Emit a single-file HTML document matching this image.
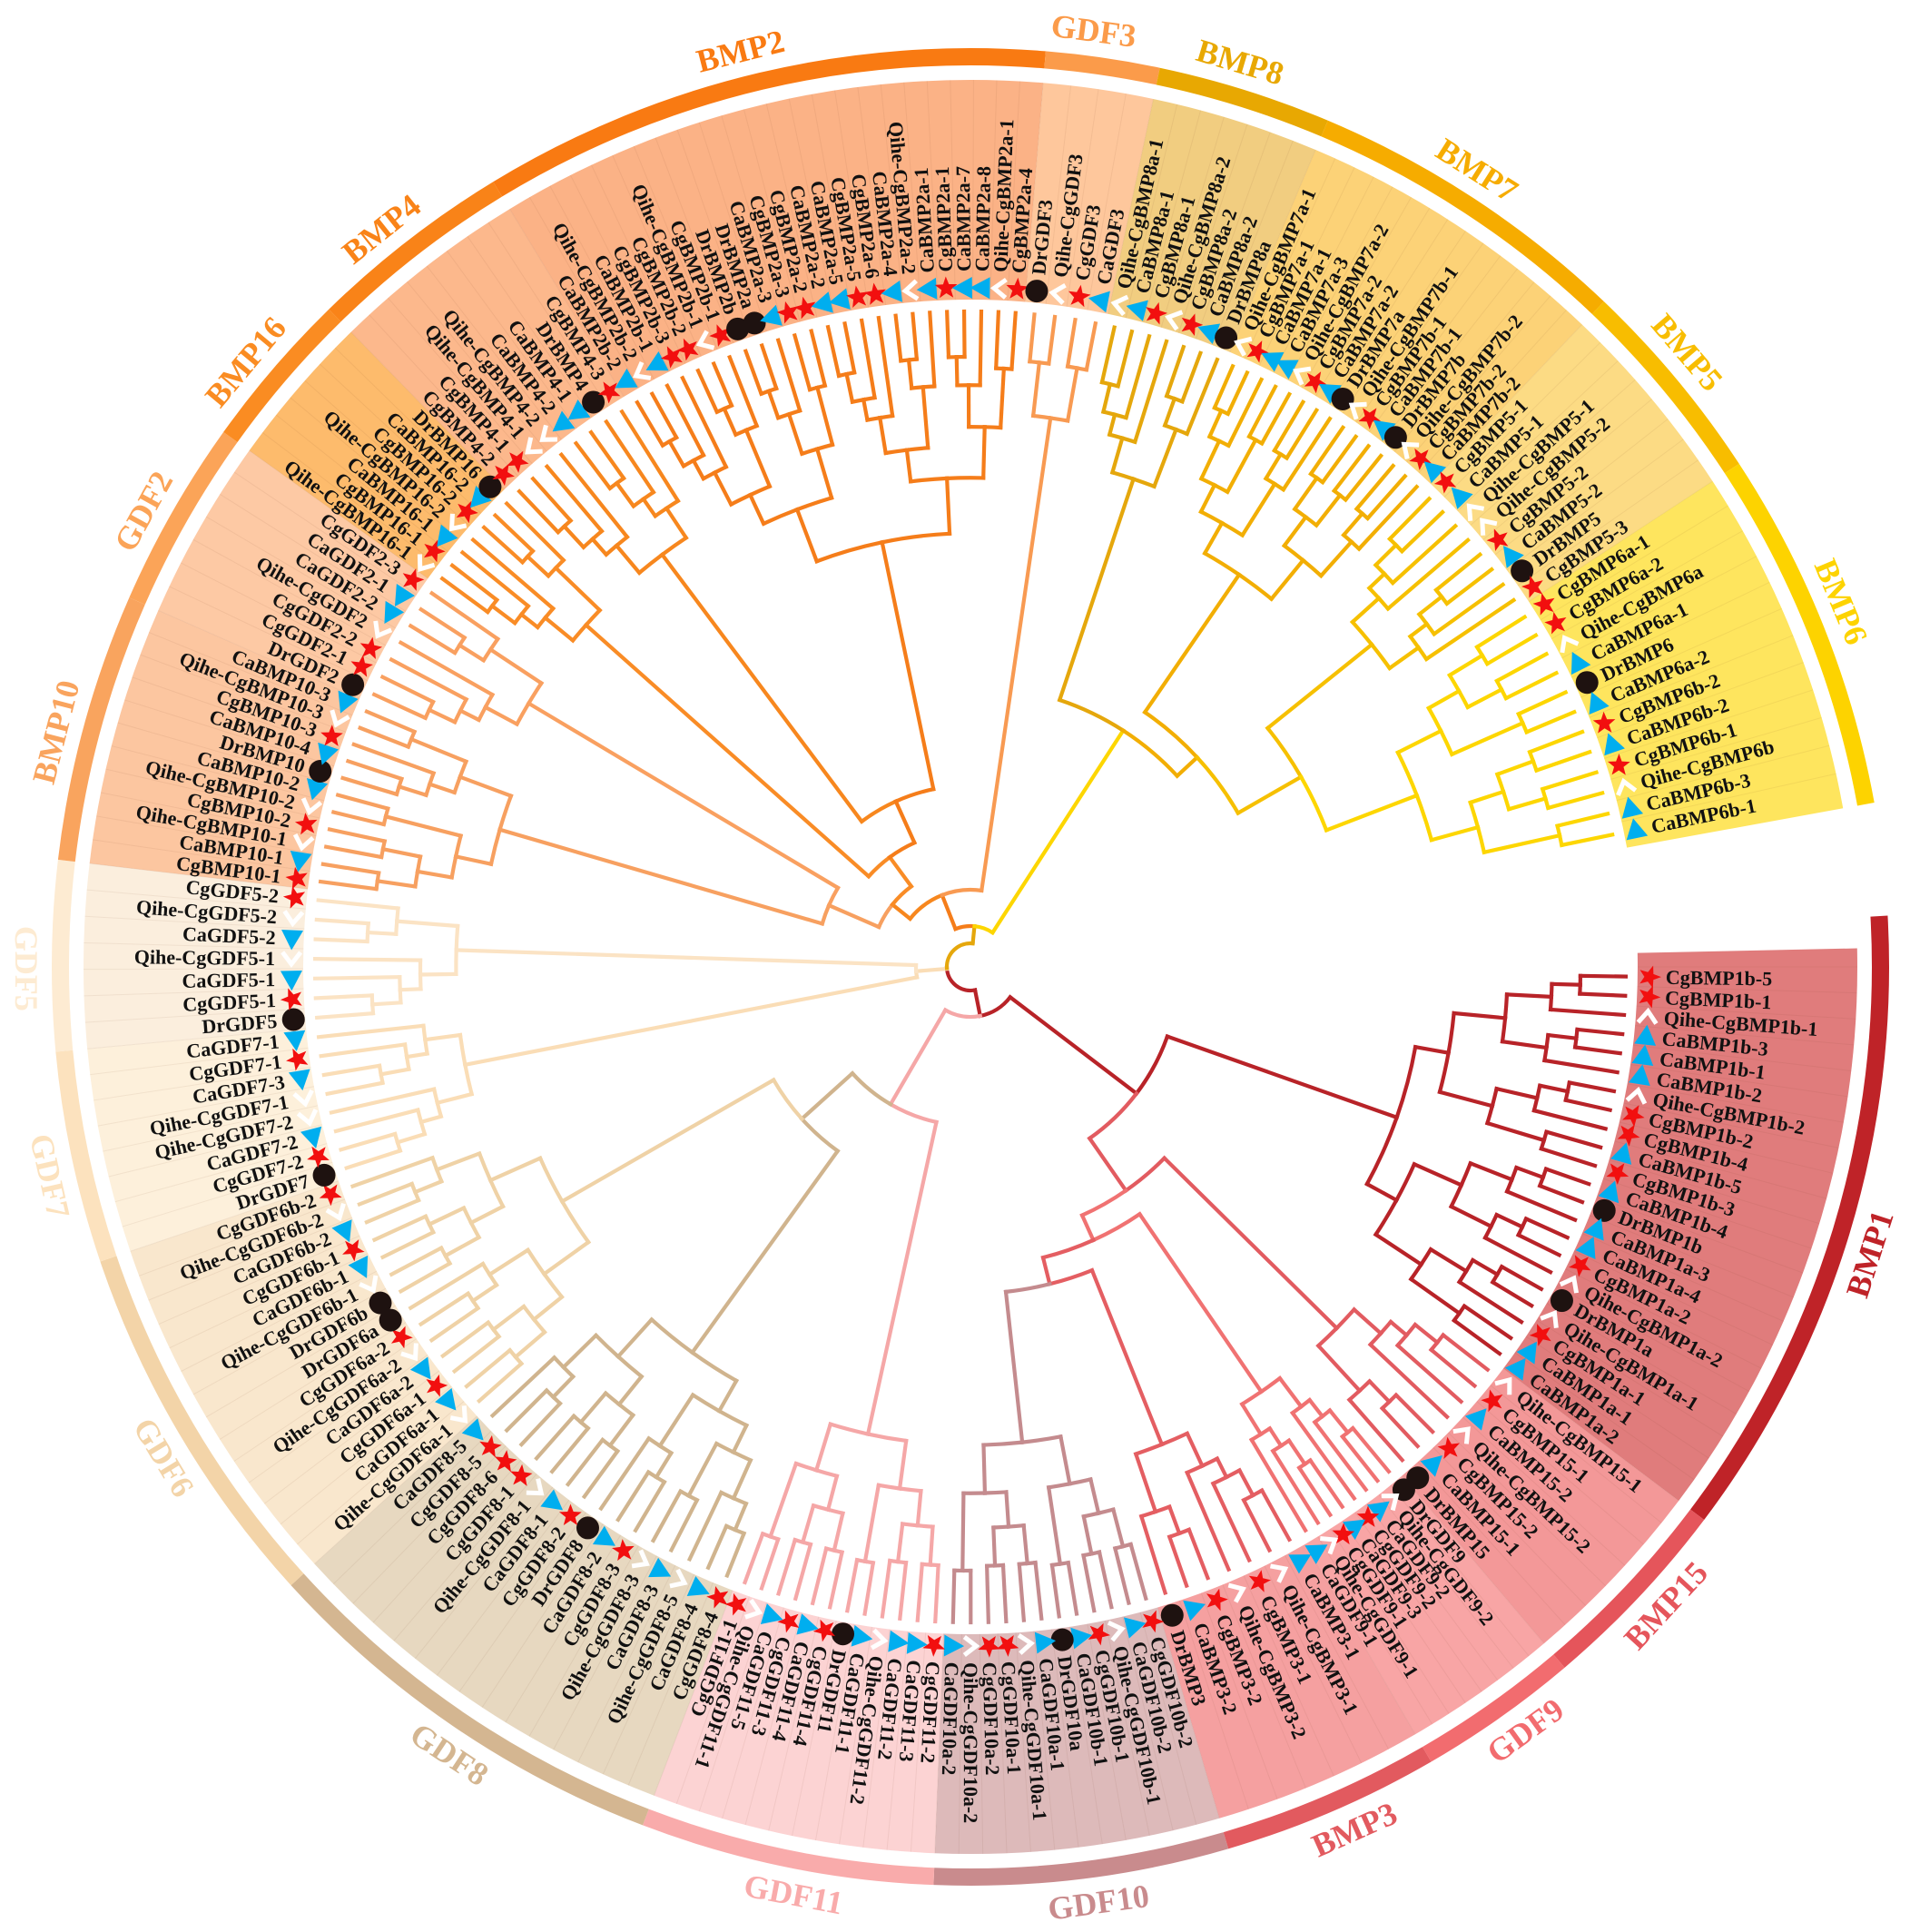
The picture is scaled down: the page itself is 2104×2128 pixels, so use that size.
<!DOCTYPE html>
<html><head><meta charset="utf-8">
<style>
html,body{margin:0;padding:0;background:#fff;}
svg{display:block;}
.lf{font-family:"Liberation Serif",serif;font-weight:bold;font-size:22px;fill:#111;}
.gl{font-family:"Liberation Serif",serif;font-weight:bold;font-size:36px;}
</style></head>
<body>
<svg id="tree" xmlns="http://www.w3.org/2000/svg" width="2104" height="2128" viewBox="0 0 2104 2128">
<g id="g-bg"></g>
<g id="g-ring"></g>
<g id="g-br" fill="none" stroke-width="4.2" stroke-linecap="square"></g>
<g id="g-sym"></g>
<g id="g-lab"></g>
<g id="g-grp"></g>
</svg>
<script>
// ---- data ----
const cladeNames = ["BMP1","BMP15","GDF9","BMP3","GDF10","GDF11","GDF8","GDF6","GDF7","GDF5","BMP10","GDF2","BMP16","BMP4","BMP2","GDF3","BMP8","BMP7","BMP5","BMP6"];
const cladeStart = [0,37,49.7,59.9,73.7,92.3,110.9,137.7,161.3,174.7,186.7,203.7,215.6,225.7,238.7,274.7,281.9,292.9,313.6,326.8];
const cladeEnd   = [37,49.7,59.9,73.7,92.3,110.9,137.7,161.3,174.7,186.7,203.7,215.6,225.7,238.7,274.7,281.9,292.9,313.6,326.8,349.3];
const cladeLeaves = [
 ["CgBMP1b-5","CgBMP1b-1","Qihe-CgBMP1b-1","CaBMP1b-3","CaBMP1b-1","CaBMP1b-2","Qihe-CgBMP1b-2","CgBMP1b-2","CgBMP1b-4","CaBMP1b-5","CgBMP1b-3","CaBMP1b-4","DrBMP1b","CaBMP1a-3","CaBMP1a-4","CgBMP1a-2","Qihe-CgBMP1a-2","DrBMP1a","Qihe-CgBMP1a-1","CgBMP1a-1","CaBMP1a-1","CaBMP1a-2"],
 ["Qihe-CgBMP15-1","CgBMP15-1","CaBMP15-2","Qihe-CgBMP15-2","CgBMP15-2","CaBMP15-1","DrBMP15"],
 ["DrGDF9","Qihe-CgGDF9-2","CaGDF9-2","CgGDF9-2","CaGDF9-3","CgGDF9-1","Qihe-CgGDF9-1","CaGDF9-1"],
 ["CaBMP3-1","Qihe-CgBMP3-1","CgBMP3-1","Qihe-CgBMP3-2","CgBMP3-2","CaBMP3-2","DrBMP3"],
 ["CgGDF10b-2","CaGDF10b-2","Qihe-CgGDF10b-1","CgGDF10b-1","CaGDF10b-1","DrGDF10a","CaGDF10a-1","Qihe-CgGDF10a-1","CgGDF10a-1","CgGDF10a-2","Qihe-CgGDF10a-2","CaGDF10a-2"],
 ["CgGDF11-2","CaGDF11-3","CaGDF11-2","Qihe-CgGDF11-2","CaGDF11-1","DrGDF11","CgGDF11-4","CaGDF11-4","CgGDF11-3","CaGDF11-5","Qihe-CgGDF11-1","CgGDF11-1"],
 ["CgGDF8-4","CaGDF8-4","Qihe-CgGDF8-5","CaGDF8-3","Qihe-CgGDF8-3","CgGDF8-3","CaGDF8-2","DrGDF8","CgGDF8-2","CaGDF8-1","Qihe-CgGDF8-1","CgGDF8-1","CgGDF8-6","CgGDF8-5","CaGDF8-5"],
 ["Qihe-CgGDF6a-1","CaGDF6a-1","CgGDF6a-1","CaGDF6a-2","Qihe-CgGDF6a-2","CgGDF6a-2","DrGDF6a","DrGDF6b","Qihe-CgGDF6b-1","CaGDF6b-1","CgGDF6b-1","CaGDF6b-2","Qihe-CgGDF6b-2","CgGDF6b-2"],
 ["DrGDF7","CgGDF7-2","CaGDF7-2","Qihe-CgGDF7-2","Qihe-CgGDF7-1","CaGDF7-3","CgGDF7-1","CaGDF7-1"],
 ["DrGDF5","CgGDF5-1","CaGDF5-1","Qihe-CgGDF5-1","CaGDF5-2","Qihe-CgGDF5-2","CgGDF5-2"],
 ["CgBMP10-1","CaBMP10-1","Qihe-CgBMP10-1","CgBMP10-2","Qihe-CgBMP10-2","CaBMP10-2","DrBMP10","CaBMP10-4","CgBMP10-3","Qihe-CgBMP10-3","CaBMP10-3"],
 ["DrGDF2","CgGDF2-1","CgGDF2-2","Qihe-CgGDF2","CaGDF2-2","CaGDF2-1","CgGDF2-3"],
 ["Qihe-CgBMP16-1","CgBMP16-1","CaBMP16-1","Qihe-CgBMP16-2","CgBMP16-2","CaBMP16-2","DrBMP16"],
 ["CgBMP4-2","CgBMP4-1","Qihe-CgBMP4-1","Qihe-CgBMP4-2","CaBMP4-2","CaBMP4-1","DrBMP4","CgBMP4-3"],
 ["CaBMP2b-2","Qihe-CgBMP2b-2","CaBMP2b-1","CgBMP2b-3","CgBMP2b-2","Qihe-CgBMP2b-1","CgBMP2b-1","DrBMP2b","DrBMP2a","CaBMP2a-3","CgBMP2a-3","CgBMP2a-2","CaBMP2a-2","CaBMP2a-5","CgBMP2a-5","CgBMP2a-6","CaBMP2a-4","Qihe-CgBMP2a-2","CaBMP2a-1","CgBMP2a-1","CaBMP2a-7","CaBMP2a-8","Qihe-CgBMP2a-1","CgBMP2a-4"],
 ["DrGDF3","Qihe-CgGDF3","CgGDF3","CaGDF3"],
 ["Qihe-CgBMP8a-1","CaBMP8a-1","CgBMP8a-1","Qihe-CgBMP8a-2","CgBMP8a-2","CaBMP8a-2","DrBMP8a"],
 ["Qihe-CgBMP7a-1","CgBMP7a-1","CaBMP7a-1","CaBMP7a-3","Qihe-CgBMP7a-2","CgBMP7a-2","CaBMP7a-2","DrBMP7a","Qihe-CgBMP7b-1","CgBMP7b-1","CaBMP7b-1","DrBMP7b","Qihe-CgBMP7b-2","CgBMP7b-2","CaBMP7b-2"],
 ["CgBMP5-1","CaBMP5-1","Qihe-CgBMP5-1","Qihe-CgBMP5-2","CgBMP5-2","CaBMP5-2","DrBMP5","CgBMP5-3"],
 ["CgBMP6a-1","CgBMP6a-2","Qihe-CgBMP6a","CaBMP6a-1","DrBMP6","CaBMP6a-2","CgBMP6b-2","CaBMP6b-2","CgBMP6b-1","Qihe-CgBMP6b","CaBMP6b-3","CaBMP6b-1"]
];
// ---- styles ----
const ringColor = ["#BF2328","#E5555B","#F26C6F","#E25A5F","#C98B8D","#F9ABAB","#D4B691","#F3D4A8","#FCE2BE","#FDEBD2","#F9A45E","#FBA458","#FA8C22","#F98318","#F97A12","#FB9B4A","#E8A802","#F6AC00","#F8BD00","#FDD300"];
const bgColor   = ["#E07C7C","#F39898","#F8A5A5","#F5A0A0","#DDBABA","#FCD3D3","#E7D8C0","#F9E7CD","#FDF0DB","#FBEEDD","#FCC6A0","#FDC9A4","#FDBB6C","#FCB88C","#FBB286","#FEC79C","#F1CD80","#FCD277","#FCDB84","#FEE55E"];
const brColor   = ["#B82328","#E25B60","#F07272","#E45E62","#C48B8E","#F5A7A7","#D0B48E","#EFD2A6","#FADDB6","#FBE3C4","#F7A060","#F9A060","#F98C26","#F7871E","#F57D1A","#F89A52","#E5A70C","#F2AE04","#F6C000","#FDD600"];

const CX=1069, CY=1065, TIP=722, SYM=748, LAB=766, BG0=735, BG1=977, R0=993, R1=1012, GLR=1040, STEP=50;
const svgNS="http://www.w3.org/2000/svg";
function P(r,a){const t=a*Math.PI/180;return [CX+r*Math.cos(t),CY+r*Math.sin(t)];}
function mk(tag,attrs,parent){const e=document.createElementNS(svgNS,tag);for(const k in attrs)e.setAttribute(k,attrs[k]);parent.appendChild(e);return e;}
function sector(r0,r1,a0,a1){
  const [x0,y0]=P(r1,a0),[x1,y1]=P(r1,a1),[x2,y2]=P(r0,a1),[x3,y3]=P(r0,a0);
  const la=(a1-a0)>180?1:0;
  return `M${x0} ${y0}A${r1} ${r1} 0 ${la} 1 ${x1} ${y1}L${x2} ${y2}A${r0} ${r0} 0 ${la} 0 ${x3} ${y3}Z`;
}
function arcPath(r,a0,a1){
  const lo=Math.min(a0,a1),hi=Math.max(a0,a1);
  const [x0,y0]=P(r,lo),[x1,y1]=P(r,hi);
  return `M${x0} ${y0}A${r} ${r} 0 ${(hi-lo)>180?1:0} 1 ${x1} ${y1}`;
}
const gBg=document.getElementById('g-bg'),gRing=document.getElementById('g-ring'),gBr=document.getElementById('g-br'),gSym=document.getElementById('g-sym'),gLab=document.getElementById('g-lab'),gGrp=document.getElementById('g-grp');

// backgrounds, rings, titles
cladeNames.forEach((nm,i)=>{
  const a0=cladeStart[i]-(i===0?1.2:0), a1=cladeEnd[i]+(i===cladeNames.length-1?0.4:0);
  const b=mk('path',{d:sector(BG0,BG1,a0,a1),fill:bgColor[i]},gBg);
  
  
  const rg=mk('path',{d:sector(R0,R1,a0-(i===0?2:0),a1),fill:ringColor[i]},gRing);
  
  
  const am=(cladeStart[i]+cladeEnd[i])/2-0.8;
  const [tx,ty]=P(GLR,am);
  const rot=am<185?am-90:am+90;
  const t=mk('text',{x:tx,y:ty,class:'gl',fill:ringColor[i],'text-anchor':'middle','dominant-baseline':'central',transform:`rotate(${rot} ${tx} ${ty})`},gGrp);
  t.textContent=nm;
  
  
});

// leaves
const leafNodes=[];
cladeNames.forEach((nm,ci)=>{
  const L=cladeLeaves[ci], n=L.length, d=(cladeEnd[ci]-cladeStart[ci])/n;
  const arr=[];
  L.forEach((name,k)=>{
    const a=cladeStart[ci]+(k+0.5)*d;
    arr.push({a,r:TIP,leaf:true,name,ci});
    // divider line
    const [lx0,ly0]=P(BG0,cladeStart[ci]+k*d),[lx1,ly1]=P(BG1,cladeStart[ci]+k*d);
    const dl=mk('line',{x1:lx0,y1:ly0,x2:lx1,y2:ly1,stroke:'rgba(120,60,40,0.08)','stroke-width':1},gBg);
    
    
    // label
    const flip=(a>=110&&a<265);
    const [tx,ty]=P(LAB,a);
    const rot=flip?a-180:a;
    const t=mk('text',{x:tx,y:ty,class:'lf','text-anchor':flip?'end':'start','dominant-baseline':'central',transform:`rotate(${rot} ${tx} ${ty})`},gLab);
    t.textContent=name;
    
    
    // symbol
    const [sx,sy]=P(SYM,a);
    let s;
    if(name.startsWith('Qihe')){
      s=mk('polyline',{points:'-7,-10 6,0 -7,10',fill:'none',stroke:'#fff','stroke-width':5,'stroke-linejoin':'miter',transform:`translate(${sx} ${sy}) rotate(${a-90})`},gSym);
      
    } else if(name.startsWith('Cg')){
      let pts=[];for(let q=0;q<10;q++){const rr=q%2?5.5:13,t2=(q*36-90)*Math.PI/180;pts.push((rr*Math.cos(t2)).toFixed(1)+','+(rr*Math.sin(t2)).toFixed(1));}
      s=mk('polygon',{points:pts.join(' '),fill:'#F20F0F',transform:`translate(${sx} ${sy}) rotate(${a+90})`},gSym);
      
    } else if(name.startsWith('Ca')){
      s=mk('polygon',{points:'13,0 -9,-12 -9,12',fill:'#00AEEF',transform:`translate(${sx} ${sy}) rotate(${a-90})`},gSym);
      
    } else {
      s=mk('circle',{cx:sx,cy:sy,r:12.5,fill:'#1E1210'},gSym);
      
    }
    
  });
  leafNodes.push(arr);
});

// clade subtrees
function buildSub(arr,lo,hi,depth){
  if(hi-lo===1) return arr[lo];
  const n=hi-lo;
  const mid=lo+Math.ceil(n/2 + ((depth%2)?0.3:-0.3));
  const m=Math.min(hi-1,Math.max(lo+1,mid));
  const k1=buildSub(arr,lo,m,depth+1),k2=buildSub(arr,m,hi,depth+1);
  const r=TIP-STEP*Math.log2(n)-((n*7+depth*5)%17);
  return {a:(k1.a+k2.a)/2,r:Math.max(r,120),kids:[k1,k2],ci:arr[lo].ci};
}
const cladeRoot=leafNodes.map(arr=>buildSub(arr,0,arr.length,0));
function C(name){return cladeRoot[cladeNames.indexOf(name)];}
function N(r,kids,ci){const as=kids.map(k=>k.a);return {a:(Math.min(...as)+Math.max(...as))/2,r,kids,ci};}
const red = N(230,[C('BMP1'), N(300,[C('BMP15'), N(330,[C('GDF9'), N(360,[C('BMP3'),C('GDF10')],3)],2)],1)],0);
const pinkTan = N(175,[C('GDF11'), N(250,[C('GDF8'),C('GDF6')],6)],5);
const beige = N(60,[C('GDF7'),C('GDF5')],8);
const orange = N(85,[N(110,[N(170,[C('BMP10'),C('GDF2')],10), N(150,[C('BMP16'), N(200,[C('BMP4'),C('BMP2')],14)],12)],13), C('GDF3')],14);
const yellow = N(310,[C('BMP8'), N(340,[C('BMP7'), N(420,[C('BMP5'),C('BMP6')],18)],17)],19);
const root = N(26,[N(55,[red,pinkTan],0), beige, N(45,[orange,yellow],16)],0);

function draw(node){
  if(!node.kids) return;
  node.kids.forEach(k=>{
    const col=brColor[k.ci];
    const ap=mk('path',{d:arcPath(node.r,node.a,k.a),stroke:col},gBr);
    
    
    const [x0,y0]=P(node.r,k.a),[x1,y1]=P(k.r,k.a);
    const ln=mk('line',{x1:x0,y1:y0,x2:x1,y2:y1,stroke:col},gBr);
    
    
    draw(k);
  });
}
draw(root);
</script>
</body></html>
